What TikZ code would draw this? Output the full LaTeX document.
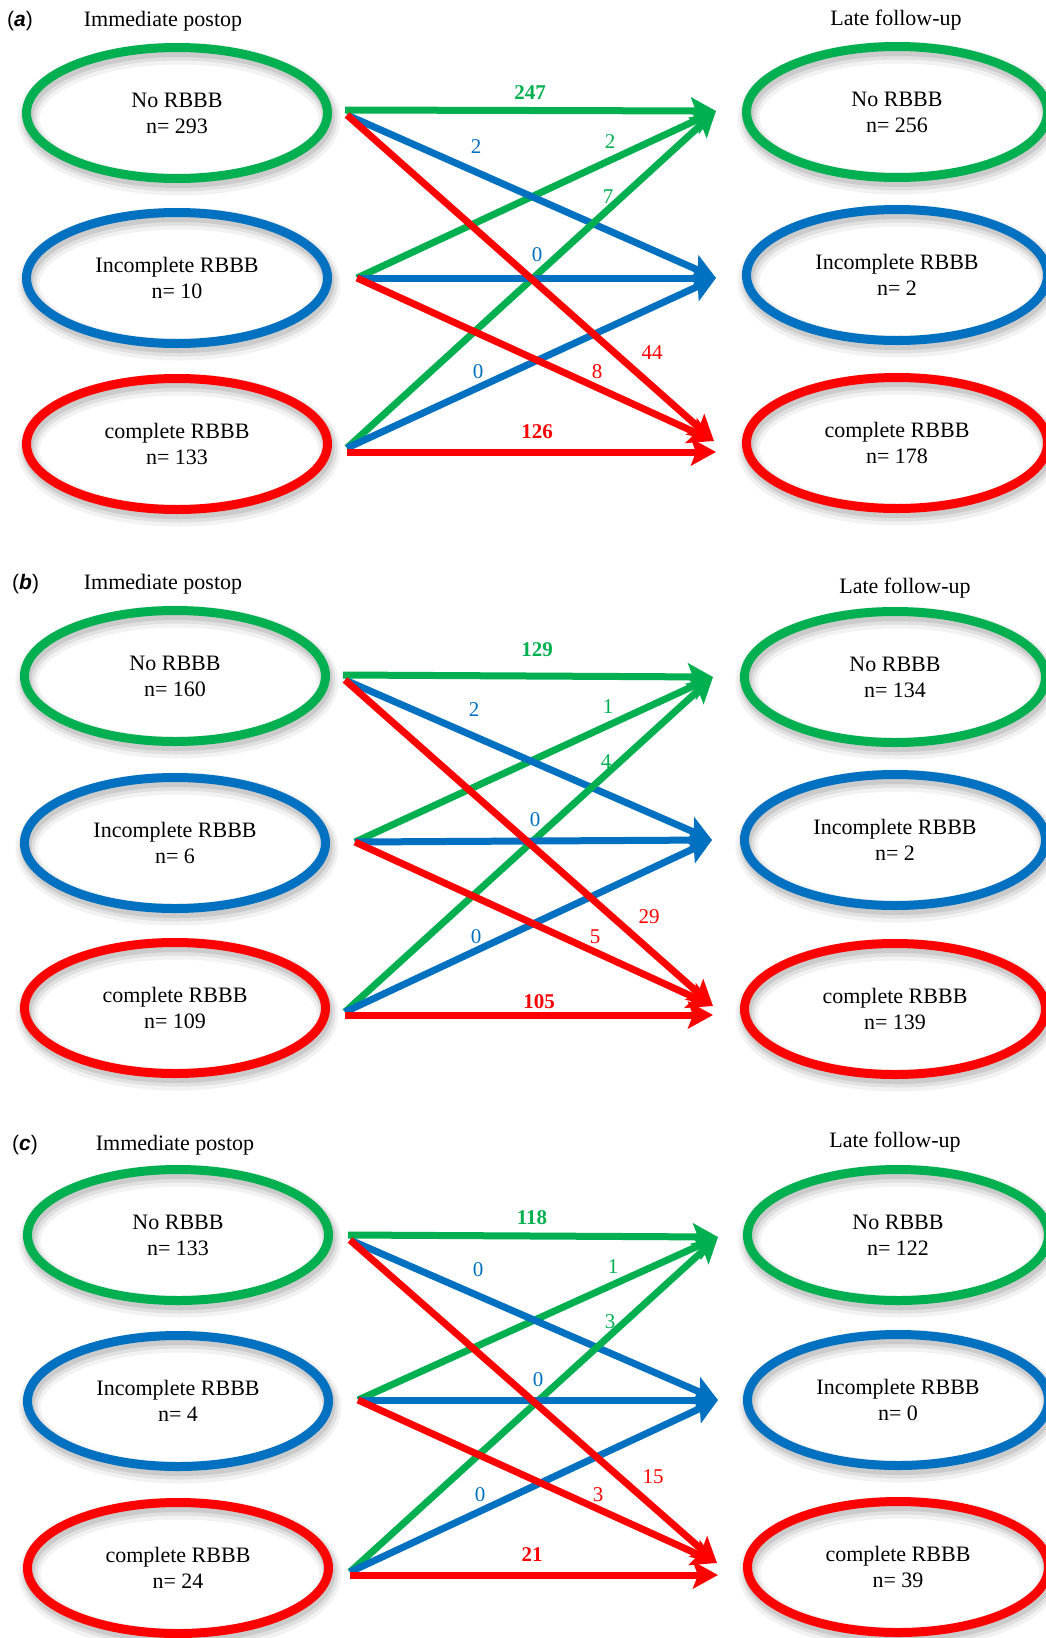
\documentclass[tikz,border=0pt]{standalone}
\usepackage{fontspec}
\setmainfont{Liberation Serif}
\newfontfamily\tagfont{Liberation Sans}
\usetikzlibrary{arrows.meta,shapes.geometric}

\definecolor{cgreen}{RGB}{0,176,80}
\definecolor{cblue}{RGB}{0,112,192}
\definecolor{cred}{RGB}{255,0,0}

\tikzset{
  state/.style={ellipse, draw=#1, line width=9pt,
    minimum width=301pt, minimum height=131pt, inner sep=0pt,
    align=center, font=\fontsize{22}{26}\selectfont,
    preaction={draw=black, draw opacity=0.05, line width=22pt,
      transform canvas={xshift=2pt, yshift=-6pt}},
    preaction={draw=black, draw opacity=0.07, line width=16pt,
      transform canvas={xshift=2pt, yshift=-5pt}},
    preaction={draw=black, draw opacity=0.09, line width=11pt,
      transform canvas={xshift=1.5pt, yshift=-4pt}}},
  heading/.style={anchor=base, inner sep=0pt, font=\fontsize{22}{26}\selectfont},
  tag/.style={anchor=base west, inner sep=0pt, font=\tagfont\fontsize{21}{24}\selectfont},
  flow/.style={draw=#1, line width=7pt,
    -{Stealth[length=25pt,width=27pt,inset=5pt]}},
  count/.style={text=#1, inner sep=0pt, font=\fontsize{21}{24}\selectfont},
  total/.style={text=#1, inner sep=0pt, font=\bfseries\fontsize{21}{24}\selectfont},
}

% the nine transitions of one panel, named by its prefix
\newcommand\drawflows[1]{%
  \draw[flow=cgreen] (#1-s2) -- (#1-t1);
  \draw[flow=cblue] (#1-s1d) -- (#1-t2);
  \draw[flow=cgreen] (#1-s3d) -- (#1-t1);
  \draw[flow=cblue] (#1-s3d) -- (#1-t2);
  \draw[flow=cgreen] (#1-s1h) -- (#1-t1);
  \draw[flow=cblue] (#1-s2) -- (#1-t2);
  \draw[flow=cred] (#1-s3h) -- (#1-t3h);
  \draw[flow=cred] (#1-s2) -- (#1-t3d);
  \draw[flow=cred] (#1-s1d) -- (#1-t3d);
}

\begin{document}
\begin{tikzpicture}[x=1pt, y=-1pt]
\useasboundingbox (0,0) rectangle (1046,1638);
\clip (0,0) rectangle (1046,1638);
\fill[white] (0,0) rectangle (1046,1638);

% ---------------- panel (a) ----------------
\node[tag] (a-tag) at (7,27) {(\textbf{\textit{a}})};
\node[heading] (a-h1) at (163,27) {Immediate postop};
\node[heading] (a-h2) at (896,25) {Late follow-up};

\node[state=cgreen] (a-l1) at (177,113) {No RBBB\\n= 293};
\node[state=cblue]  (a-l2) at (177,278) {Incomplete RBBB\\n= 10};
\node[state=cred]   (a-l3) at (177,444) {complete RBBB\\n= 133};
\node[state=cgreen] (a-r1) at (897,112) {No RBBB\\n= 256};
\node[state=cblue]  (a-r2) at (897,275) {Incomplete RBBB\\n= 2};
\node[state=cred]   (a-r3) at (897,443) {complete RBBB\\n= 178};

\coordinate (a-s1h) at (345,110);
\coordinate (a-s1d) at (347,115);
\coordinate (a-s2)  at (357,278);
\coordinate (a-s3d) at (347,448);
\coordinate (a-s3h) at (347,452);
\coordinate (a-t1)  at (716,111);
\coordinate (a-t2)  at (716,278);
\coordinate (a-t3d) at (714,441);
\coordinate (a-t3h) at (716,452);
\drawflows{a}

\node[total=cgreen] (a-n11) at (530,93)  {247};
\node[count=cblue]  (a-n12) at (476,147) {2};
\node[count=cgreen] (a-n21) at (610,142) {2};
\node[count=cgreen] (a-n31) at (608,197) {7};
\node[count=cblue]  (a-n22) at (537,255) {0};
\node[count=cblue]  (a-n32) at (478,372) {0};
\node[count=cred]   (a-n23) at (597,372) {8};
\node[count=cred]   (a-n13) at (652,353) {44};
\node[total=cred]   (a-n33) at (537,432) {126};

% ---------------- panel (b) ----------------
\node[tag] (b-tag) at (12,589) {(\textbf{\textit{b}})};
\node[heading] (b-h1) at (163,589) {Immediate postop};
\node[heading] (b-h2) at (905,593) {Late follow-up};

\node[state=cgreen] (b-l1) at (175,676)  {No RBBB\\n= 160};
\node[state=cblue]  (b-l2) at (175,843)  {Incomplete RBBB\\n= 6};
\node[state=cred]   (b-l3) at (175,1008) {complete RBBB\\n= 109};
\node[state=cgreen] (b-r1) at (895,677)  {No RBBB\\n= 134};
\node[state=cblue]  (b-r2) at (895,840)  {Incomplete RBBB\\n= 2};
\node[state=cred]   (b-r3) at (895,1009) {complete RBBB\\n= 139};

\coordinate (b-s1h) at (343,675);
\coordinate (b-s1d) at (345,680);
\coordinate (b-s2)  at (355,842);
\coordinate (b-s3d) at (345,1012);
\coordinate (b-s3h) at (345,1015);
\coordinate (b-t1)  at (713,677);
\coordinate (b-t2)  at (712,840);
\coordinate (b-t3d) at (713,1006);
\coordinate (b-t3h) at (713,1015);
\drawflows{b}

\node[total=cgreen] (b-n11) at (537,650) {129};
\node[count=cblue]  (b-n12) at (474,710) {2};
\node[count=cgreen] (b-n21) at (608,707) {1};
\node[count=cgreen] (b-n31) at (606,762) {4};
\node[count=cblue]  (b-n22) at (535,820) {0};
\node[count=cblue]  (b-n32) at (476,937) {0};
\node[count=cred]   (b-n23) at (595,937) {5};
\node[count=cred]   (b-n13) at (649,917) {29};
\node[total=cred]   (b-n33) at (539,1002) {105};

% ---------------- panel (c) ----------------
\node[tag] (c-tag) at (12,1150) {(\textbf{\textit{c}})};
\node[heading] (c-h1) at (175,1150) {Immediate postop};
\node[heading] (c-h2) at (895,1147) {Late follow-up};

\node[state=cgreen] (c-l1) at (178,1235) {No RBBB\\n= 133};
\node[state=cblue]  (c-l2) at (178,1401) {Incomplete RBBB\\n= 4};
\node[state=cred]   (c-l3) at (178,1568) {complete RBBB\\n= 24};
\node[state=cgreen] (c-r1) at (898,1235) {No RBBB\\n= 122};
\node[state=cblue]  (c-r2) at (898,1400) {Incomplete RBBB\\n= 0};
\node[state=cred]   (c-r3) at (898,1567) {complete RBBB\\n= 39};

\coordinate (c-s1h) at (348,1235);
\coordinate (c-s1d) at (350,1240);
\coordinate (c-s2)  at (358,1400);
\coordinate (c-s3d) at (350,1572);
\coordinate (c-s3h) at (350,1575);
\coordinate (c-t1)  at (718,1237);
\coordinate (c-t2)  at (718,1400);
\coordinate (c-t3d) at (717,1563);
\coordinate (c-t3h) at (718,1575);
\drawflows{c}

\node[total=cgreen] (c-n11) at (532,1218) {118};
\node[count=cblue]  (c-n12) at (478,1270) {0};
\node[count=cgreen] (c-n21) at (613,1267) {1};
\node[count=cgreen] (c-n31) at (610,1322) {3};
\node[count=cblue]  (c-n22) at (538,1380) {0};
\node[count=cblue]  (c-n32) at (480,1495) {0};
\node[count=cred]   (c-n23) at (598,1495) {3};
\node[count=cred]   (c-n13) at (653,1477) {15};
\node[total=cred]   (c-n33) at (532,1555) {21};
\end{tikzpicture}
\end{document}
